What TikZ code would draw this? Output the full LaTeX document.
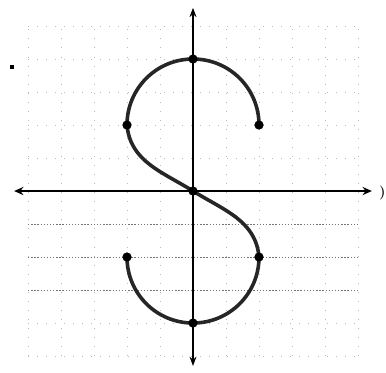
\documentclass[tikz,border=0pt]{standalone}
\usetikzlibrary{arrows.meta}
\begin{document}
\begin{tikzpicture}[x=1cm,y=1cm,
  gridline/.style={gray!55, line width=0.6pt, dash pattern=on 0.8pt off 7pt},
  lowgrid/.style={gray!90!black, line width=0.6pt, dash pattern=on 1.2pt off 1.5pt},
  axisline/.style={line width=1.8pt, {Stealth[length=8pt,width=7pt]}-{Stealth[length=8pt,width=7pt]}},
  yaxisline/.style={line width=1.1pt, {Stealth[length=8pt,width=6pt]}-{Stealth[length=8pt,width=6pt]}},
  curveline/.style={line width=3.1pt, black!85},
  pt/.style={circle, fill=black, inner sep=0pt, minimum size=8pt}]
\useasboundingbox (-5.848,-5.485) rectangle (5.848,5.788);
% grid
\foreach \i in {-5,...,5}{
  \ifnum\i=0\relax\else
    \draw[gridline] (\i,-5) -- (\i,5);
  \fi}
\foreach \j in {-5,-4,1,2,3,4,5}{
  \draw[gridline] (-5,\j) -- (5,\j);}
\foreach \j in {-1,-2,-3}{
  \draw[lowgrid] (-5,\j) -- (5,\j);}
% axes
\coordinate (xl) at (-5.42,0);
\coordinate (xr) at (5.42,0);
\coordinate (yt) at (0,5.55);
\coordinate (yb) at (0,-5.3);
\draw[axisline] (xl) -- (xr);
\draw[yaxisline] (yb) -- (yt);
\node[font=\bfseries\large, inner sep=0pt] (xlab) at (5.74,-0.05) {)};
% speck
\node[fill=black, inner sep=0pt, minimum size=4pt] (speck) at (-5.48,3.76) {};
% curve points
\coordinate (A) at (2,2);
\coordinate (B) at (0,4);
\coordinate (C) at (-2,2);
\coordinate (O) at (0,0);
\coordinate (D) at (2,-2);
\coordinate (E) at (0,-4);
\coordinate (F) at (-2,-2);
\draw[curveline] (A) to[out=90,in=0] (B) to[out=180,in=90] (C)
  to[out=-85,in=148] (O) to[out=-32,in=95] (D)
  to[out=-90,in=0] (E) to[out=180,in=-90] (F);
\foreach \p in {A,B,C,O,D,E,F}{
  \node[pt] (dot\p) at (\p) {};}
\end{tikzpicture}
\end{document}
